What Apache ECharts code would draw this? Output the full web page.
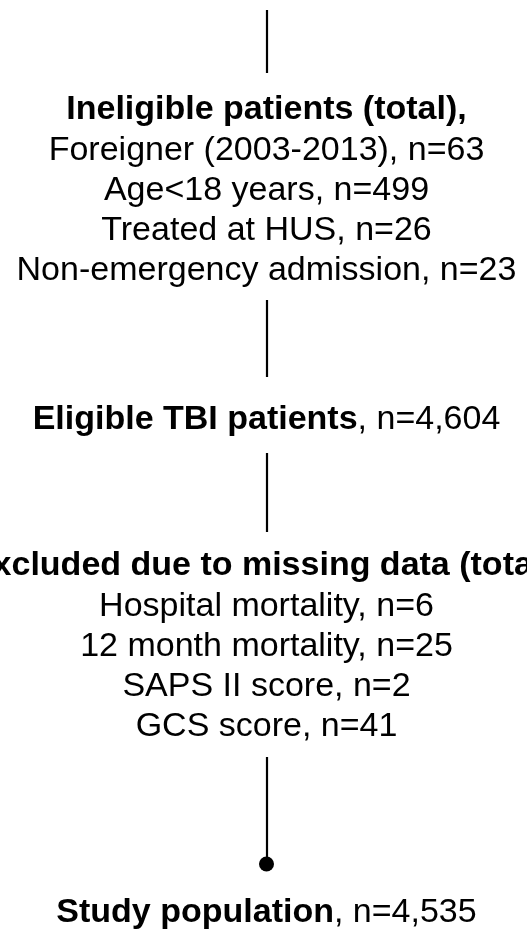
<!DOCTYPE html>
<html>
<head>
<meta charset="utf-8">
<script src="https://cdn.jsdelivr.net/npm/echarts@6/dist/echarts.min.js"></script>
<style>
  html, body { margin: 0; padding: 0; background: #fff; }
  #chart { width: 527px; height: 929px; }
</style>
</head>
<body>
<div id="chart"></div>
<script>
// flow steps
const ineligibleTitle = 'Ineligible patients (total),';
const ineligibleReasons = ['Foreigner (2003-2013)', 'Age<18 years', 'Treated at HUS', 'Non-emergency admission'];
const ineligibleCounts = [63, 499, 26, 23];

const eligibleTitle = 'Eligible TBI patients';
const eligibleCount = 4604;

const missingTitle = 'Excluded due to missing data (total),';
const missingReasons = ['Hospital mortality', '12 month mortality', 'SAPS II score', 'GCS score'];
const missingCounts = [6, 25, 2, 41];

const studyTitle = 'Study population';
const studyCount = 4535;

const fmt = (n) => n.toLocaleString('en-US');

// layout (canvas px on hidden value axes)
const cx = 266.5;
const titleGap = 41;
const lineGap = 40;
const connectors = [[10, 73], [300, 377], [453, 532], [757, 864]];
const ineligibleTop = 109.5;
const eligibleY = 420;
const missingTop = 565.5;
const studyY = 913;

const textPoints = [];
function block(title, top, reasons, counts) {
  textPoints.push({ value: [cx, top], label: { formatter: '{b|' + title + '}' } });
  reasons.forEach((r, i) => {
    textPoints.push({
      value: [cx, top + titleGap + lineGap * i],
      label: { formatter: '{r|' + r + ', n=' + fmt(counts[i]) + '}' }
    });
  });
}
block(ineligibleTitle, ineligibleTop, ineligibleReasons, ineligibleCounts);
textPoints.push({ value: [cx, eligibleY], label: { formatter: '{b|' + eligibleTitle + '}{r|, n=' + fmt(eligibleCount) + '}' } });
block(missingTitle, missingTop, missingReasons, missingCounts);
textPoints.push({ value: [cx, studyY], label: { formatter: '{b|' + studyTitle + '}{r|, n=' + fmt(studyCount) + '}' } });

const font = 'Liberation Sans, Arial, Helvetica, sans-serif';
const fontSize = 34;

const myChart = echarts.init(document.getElementById('chart'), null, { renderer: 'canvas' });
const option = {
  backgroundColor: '#ffffff',
  animation: false,
  grid: { left: 0, right: 0, top: 0, bottom: 0 },
  xAxis: { type: 'value', min: 0, max: 527, show: false },
  yAxis: { type: 'value', min: 0, max: 929, inverse: true, show: false },
  series: [
    {
      type: 'lines',
      coordinateSystem: 'cartesian2d',
      silent: true,
      lineStyle: { color: '#000', width: 2.2, opacity: 1 },
      data: connectors.map(c => ({ coords: [[cx, c[0]], [cx, c[1]]] }))
    },
    {
      type: 'scatter',
      silent: true,
      symbol: 'circle',
      symbolSize: 15,
      itemStyle: { color: '#000', opacity: 1 },
      data: [[cx, connectors[3][1]]]
    },
    {
      type: 'scatter',
      silent: true,
      symbolSize: 1,
      itemStyle: { color: 'rgba(255,255,255,0)', opacity: 1 },
      label: {
        show: true,
        position: 'inside',
        color: '#000',
        opacity: 1,
        textBorderWidth: 0,
        rich: {
          b: { fontFamily: font, fontSize: fontSize, fontWeight: 'bold', color: '#000', textBorderWidth: 0 },
          r: { fontFamily: font, fontSize: fontSize, color: '#000', textBorderWidth: 0 }
        }
      },
      data: textPoints
    }
  ]
};
myChart.setOption(option, true);
</script>
</body>
</html>
